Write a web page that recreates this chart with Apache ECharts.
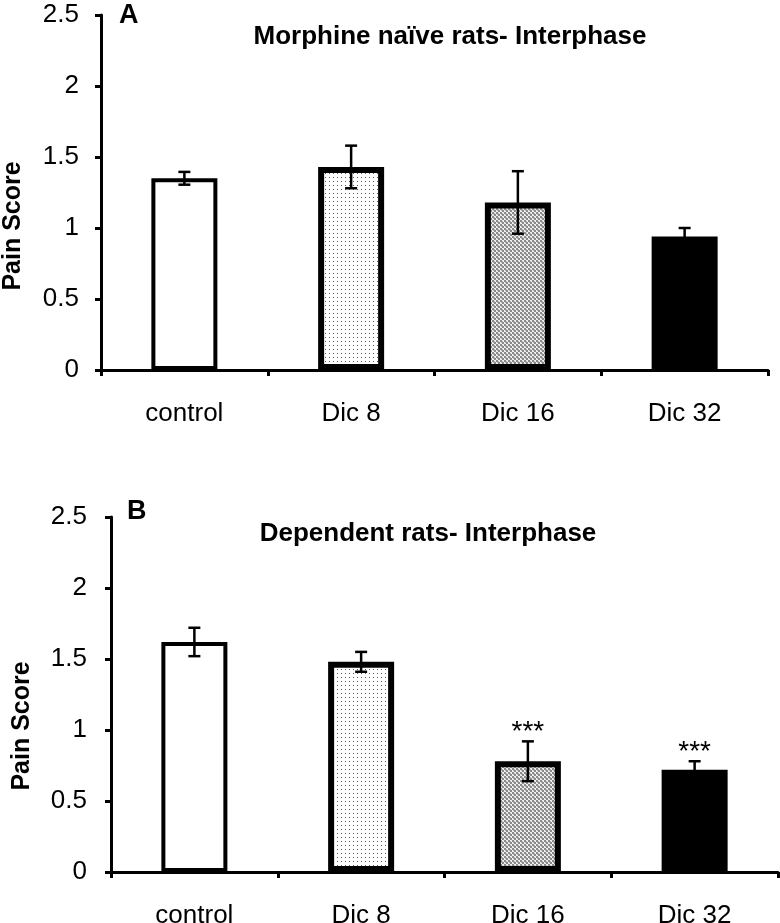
<!DOCTYPE html>
<html><head><meta charset="utf-8">
<script src="https://cdn.jsdelivr.net/npm/echarts@6/dist/echarts.min.js"></script>
<style>html,body{margin:0;padding:0;background:#fff}#c{width:780px;height:923px}</style>
</head><body><div id="c"></div>
<script>
// ---- data ----
const categories = ['control', 'Dic 8', 'Dic 16', 'Dic 32'];
const naiveMeans = [1.35, 1.43, 1.18, 0.94];
const naiveErrors = [0.045, 0.15, 0.22, 0.06];
const naiveStars = ['', '', '', ''];
const dependentMeans = [1.62, 1.48, 0.78, 0.72];
const dependentErrors = [0.10, 0.07, 0.14, 0.06];
const dependentStars = ['', '', '***', '***'];
const yTicks = [0, 0.5, 1, 1.5, 2, 2.5];
const panelTitles = ['Morphine naïve rats- Interphase', 'Dependent rats- Interphase'];
const panelLetters = ['A', 'B'];
const yAxisTitle = 'Pain Score';

// ---- fill patterns ----
function makePattern(size, bg, dots) {
  const c = document.createElement('canvas');
  c.width = size; c.height = size;
  const g = c.getContext('2d');
  g.fillStyle = bg; g.fillRect(0, 0, size, size);
  dots.forEach(d => { g.fillStyle = d[2]; g.fillRect(d[0], d[1], 1, 1); });
  return c;
}
const dotPattern = makePattern(4, '#ffffff', [[1, 1, '#5a5a5a']]);
const checkPattern = makePattern(4, '#efefef', [
  [0, 0, '#8a8a8a'], [1, 0, '#8a8a8a'], [0, 1, '#8a8a8a'], [1, 1, '#8a8a8a'],
  [2, 2, '#8a8a8a'], [3, 2, '#8a8a8a'], [2, 3, '#8a8a8a'], [3, 3, '#8a8a8a'],
  [1, 2, '#b8b8b8'], [2, 1, '#b8b8b8']
]);
const barStyles = [
  { color: '#ffffff', borderColor: '#000', borderWidth: 4 },
  { color: { image: dotPattern, repeat: 'repeat' }, borderColor: '#000', borderWidth: 6 },
  { color: { image: checkPattern, repeat: 'repeat' }, borderColor: '#000', borderWidth: 6 },
  { color: '#000000', borderColor: '#000', borderWidth: 3 }
];

const FONT = '"Liberation Sans", Arial, sans-serif';

function barData(means) {
  return means.map((v, i) => ({ value: v, itemStyle: barStyles[i] }));
}
function errData(means, errs, stars) {
  return means.map((v, i) => [i, v, errs[i], stars[i]]);
}
function renderErr(params, api) {
  const x = api.value(0), m = api.value(1), e = api.value(2);
  const star = api.value(3);
  const top = api.coord([x, m + e]);
  const bot = api.coord([x, m - e]);
  const cap = 6;
  const ls = { stroke: '#000', lineWidth: 2.5 };
  const children = [
    { type: 'line', shape: { x1: top[0], y1: top[1], x2: bot[0], y2: bot[1] }, style: ls },
    { type: 'line', shape: { x1: top[0] - cap, y1: top[1], x2: top[0] + cap, y2: top[1] }, style: ls },
    { type: 'line', shape: { x1: bot[0] - cap, y1: bot[1], x2: bot[0] + cap, y2: bot[1] }, style: ls }
  ];
  if (star && star !== '-' && isNaN(star)) {
    children.push({ type: 'text', x: top[0], y: top[1] + 5,
      style: { text: star, font: '28px ' + FONT, fill: '#000', align: 'center', verticalAlign: 'bottom' } });
  }
  return { type: 'group', children: children };
}

const grids = [
  { left: 101, top: 15, width: 667, height: 355, containLabel: false, outerBoundsMode: 'none' },
  { left: 111, top: 517, width: 667, height: 355, containLabel: false, outerBoundsMode: 'none' }
];

const chart = echarts.init(document.getElementById('c'), null, { renderer: 'canvas' });
const option = {
  animation: false,
  backgroundColor: '#ffffff',
  grid: grids,
  xAxis: grids.map((g, k) => ({
    type: 'category', gridIndex: k, data: categories,
    axisLine: { lineStyle: { color: '#000', width: 3 } },
    axisTick: { show: true, length: 6, lineStyle: { color: '#000', width: 3 } },
    axisLabel: { color: '#000', fontSize: 26, fontFamily: FONT, margin: 31 }
  })),
  yAxis: grids.map((g, k) => ({
    type: 'value', gridIndex: k, min: 0, max: 2.5, interval: 0.5,
    axisLine: { show: true, lineStyle: { color: '#000', width: 3 } },
    axisTick: { show: true, length: 6, lineStyle: { color: '#000', width: 3 } },
    splitLine: { show: false },
    axisLabel: { color: '#000', fontSize: 26, fontFamily: FONT, margin: k === 0 ? 22 : 24,
      formatter: v => String(yTicks.find(t => Math.abs(t - v) < 1e-9) ?? v) }
  })),
  series: [
    { type: 'bar', xAxisIndex: 0, yAxisIndex: 0, barWidth: 66, data: barData(naiveMeans), z: 2 },
    { type: 'custom', xAxisIndex: 0, yAxisIndex: 0, renderItem: renderErr, data: errData(naiveMeans, naiveErrors, naiveStars), z: 5 },
    { type: 'bar', xAxisIndex: 1, yAxisIndex: 1, barWidth: 66, data: barData(dependentMeans), z: 2 },
    { type: 'custom', xAxisIndex: 1, yAxisIndex: 1, renderItem: renderErr, data: errData(dependentMeans, dependentErrors, dependentStars), z: 5 }
  ],
  graphic: [
    { type: 'text', x: 450, y: 37, style: { text: panelTitles[0], font: 'bold 26px ' + FONT, fill: '#000', align: 'center', verticalAlign: 'middle' } },
    { type: 'text', x: 428, y: 534, style: { text: panelTitles[1], font: 'bold 26px ' + FONT, fill: '#000', align: 'center', verticalAlign: 'middle' } },
    { type: 'text', x: 119, y: 16, style: { text: panelLetters[0], font: 'bold 27px ' + FONT, fill: '#000', align: 'left', verticalAlign: 'middle' } },
    { type: 'text', x: 127, y: 512, style: { text: panelLetters[1], font: 'bold 27px ' + FONT, fill: '#000', align: 'left', verticalAlign: 'middle' } },
    { type: 'text', x: 13, y: 226, rotation: Math.PI / 2, style: { text: yAxisTitle, font: 'bold 25px ' + FONT, fill: '#000', align: 'center', verticalAlign: 'middle' } },
    { type: 'text', x: 22, y: 726, rotation: Math.PI / 2, style: { text: yAxisTitle, font: 'bold 25px ' + FONT, fill: '#000', align: 'center', verticalAlign: 'middle' } }
  ]
};
chart.setOption(option);
</script>
</body></html>
